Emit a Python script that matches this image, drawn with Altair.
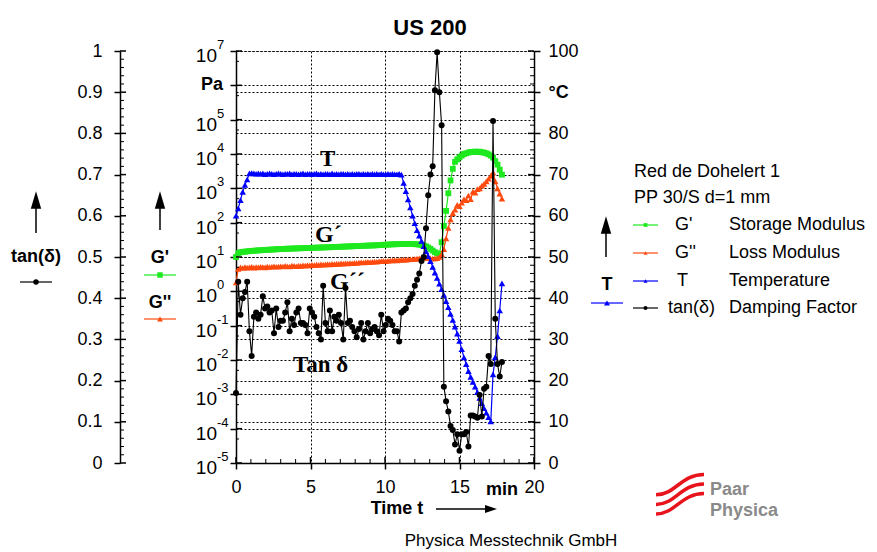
import altair as alt
import pandas as pd

# ---------------- data ----------------
TIME = [0.0, 0.15, 0.3, 0.45, 0.6, 0.75, 0.9, 1.05, 1.2, 1.35,
        1.5, 1.65, 1.8, 1.95, 2.1, 2.25, 2.4, 2.55, 2.7, 2.85,
        3.0, 3.15, 3.3, 3.45, 3.6, 3.75, 3.9, 4.05, 4.2, 4.35,
        4.5, 4.65, 4.8, 4.95, 5.1, 5.25, 5.4, 5.55, 5.7, 5.85,
        6.0, 6.15, 6.3, 6.45, 6.6, 6.75, 6.9, 7.05, 7.2, 7.35,
        7.5, 7.65, 7.8, 7.95, 8.1, 8.25, 8.4, 8.55, 8.7, 8.85,
        9.0, 9.15, 9.3, 9.45, 9.6, 9.75, 9.9, 10.05, 10.2, 10.35,
        10.5, 10.65, 10.8, 10.95, 11.1, 11.25, 11.4, 11.55, 11.7, 11.85,
        12.0, 12.15, 12.3, 12.45, 12.6, 12.75, 12.9, 13.05, 13.2, 13.35,
        13.5, 13.65, 13.8, 13.95, 14.1, 14.25, 14.4, 14.55, 14.7, 14.85,
        15.0, 15.15, 15.3, 15.45, 15.6, 15.75, 15.9, 16.05, 16.2, 16.35,
        16.5, 16.65, 16.8, 16.95, 17.1, 17.25, 17.4, 17.55, 17.7, 17.85]

G_STORAGE = [10.0, 13.0, 13.8, 14.1, 14.3, 14.6, 14.8, 15.0, 15.2, 15.4,
             15.6, 15.7, 15.9, 16.0, 16.2, 16.3, 16.5, 16.6, 16.8, 16.9,
             17.0, 17.1, 17.3, 17.4, 17.5, 17.6, 17.7, 17.8, 17.9, 18.0,
             18.1, 18.2, 18.3, 18.4, 18.5, 18.6, 18.7, 18.8, 18.9, 19.0,
             19.1, 19.2, 19.3, 19.4, 19.6, 19.7, 19.8, 19.9, 20.0, 20.2,
             20.3, 20.4, 20.5, 20.7, 20.8, 20.9, 21.0, 21.2, 21.3, 21.4,
             21.6, 21.7, 21.8, 22.0, 22.2, 22.4, 22.6, 22.8, 23.0, 23.2,
             23.4, 23.5, 23.6, 23.8, 23.9, 24.0, 24.0, 24.1, 24.0, 23.9,
             23.7, 23.4, 23.0, 22.4, 21.6, 20.5, 19.0, 17.2, 15.4, 13.8,
             12.8, 12.3, 27.0, 80.0, 220.0, 720.0, 1700.0, 3700.0, 5900.0, 7000.0,
             8000.0, 9000.0, 10000.0, 10500.0, 11000.0, 11500.0, 11500.0, 11800.0, 11500.0, 11700.0,
             11200.0, 11000.0, 10500.0, 9800.0, 9000.0, 7800.0, 6200.0, 4900.0, 3500.0, 2500.0]

G_LOSS = [1.8, 4.5, 5.0, 4.8, 5.1, 4.9, 5.0, 5.2, 4.9, 5.1,
          5.0, 5.2, 5.1, 5.0, 5.3, 5.1, 5.2, 5.4, 5.2, 5.3,
          5.4, 5.3, 5.5, 5.4, 5.3, 5.6, 5.5, 5.4, 5.6, 5.5,
          5.7, 5.6, 5.8, 5.7, 5.9, 5.8, 6.0, 5.9, 6.1, 6.0,
          6.1, 6.2, 6.1, 6.3, 6.2, 6.4, 6.3, 6.5, 6.4, 6.6,
          6.5, 6.7, 6.6, 6.8, 6.7, 6.9, 7.0, 6.9, 7.1, 7.2,
          7.1, 7.3, 7.4, 7.3, 7.5, 7.6, 7.7, 7.6, 7.8, 7.9,
          8.0, 8.1, 8.0, 8.2, 8.3, 8.4, 8.3, 8.5, 8.6, 8.7,
          8.8, 9.0, 9.1, 9.3, 9.5, 9.6, 9.4, 9.2, 9.0, 9.1,
          9.3, 10.0, 12.0, 17.0, 35.0, 70.0, 125.0, 190.0, 240.0, 330.0,
          300.0, 380.0, 480.0, 450.0, 620.0, 480.0, 800.0, 750.0, 950.0, 1000.0,
          1200.0, 1350.0, 1600.0, 1900.0, 2300.0, 2900.0, 1600.0, 1000.0, 700.0, 500.0]

TEMPERATURE = [60.0, 61.8, 63.8, 65.8, 67.5, 68.8, 70.3, 70.4, 70.3, 70.2,
               70.3, 70.2, 70.3, 70.1, 70.2, 70.3, 70.2, 70.1, 70.2, 70.3,
               70.2, 70.1, 70.2, 70.2, 70.3, 70.1, 70.2, 70.2, 70.1, 70.2,
               70.3, 70.1, 70.2, 70.2, 70.1, 70.2, 70.3, 70.1, 70.2, 70.1,
               70.2, 70.2, 70.1, 70.3, 70.1, 70.2, 70.1, 70.2, 70.2, 70.1,
               70.2, 70.1, 70.2, 70.1, 70.2, 70.2, 70.1, 70.2, 70.1, 70.2,
               70.1, 70.2, 70.1, 70.2, 70.1, 70.2, 70.1, 70.1, 70.2, 70.1,
               70.2, 70.1, 70.1, 70.2, 70.0, 68.0, 66.0, 64.0, 62.0, 60.0,
               58.2, 56.5, 55.2, 53.9, 52.6, 51.4, 50.2, 49.0, 47.6, 46.2,
               44.9, 43.5, 42.2, 40.8, 39.3, 37.8, 36.2, 34.7, 33.1, 31.4,
               29.6, 27.6, 25.6, 24.0, 22.3, 20.9, 19.7, 18.5, 17.2, 15.8,
               14.5, 13.3, 12.2, 11.1, 10.1, 21.5, 25.7, 30.8, 37.0, 43.6]

TAN_DELTA = [0.17, 0.44, 0.36, 0.40, 0.415, 0.44, 0.32, 0.26, 0.355, 0.365,
             0.35, 0.36, 0.405, 0.375, 0.38, 0.365, 0.37, 0.315, 0.375, 0.33,
             0.345, 0.345, 0.365, 0.39, 0.32, 0.35, 0.335, 0.365, 0.375, 0.34,
             0.34, 0.335, 0.315, 0.375, 0.365, 0.355, 0.33, 0.315, 0.30, 0.43,
             0.34, 0.32, 0.37, 0.32, 0.355, 0.345, 0.36, 0.34, 0.30, 0.425,
             0.34, 0.345, 0.33, 0.32, 0.305, 0.325, 0.34, 0.30, 0.32, 0.34,
             0.315, 0.325, 0.33, 0.32, 0.31, 0.36, 0.32, 0.335, 0.35, 0.345,
             0.335, 0.32, 0.32, 0.295, 0.365, 0.37, 0.375, 0.39, 0.40, 0.41,
             0.43, 0.445, 0.46, 0.49, 0.50, 0.57, 0.65, 0.70, 0.72, 0.905,
             0.997, 0.90, 0.82, 0.185, 0.15, 0.125, 0.09, 0.08, 0.045, 0.07,
             0.03, 0.07, 0.07, 0.075, 0.04, 0.115, 0.115, 0.113, 0.11, 0.165,
             0.113, 0.18, 0.185, 0.26, 0.24, 0.83, 0.35, 0.24, 0.21, 0.245]

# tick values
X_MAJOR = [0, 5, 10, 15, 20]
X_MINOR = [1, 2, 3, 4, 6, 7, 8, 9, 11, 12, 13, 14, 16, 17, 18, 19]
LOG_EXPONENTS = [-5, -4, -3, -2, -1, 0, 1, 2, 3, 4, 5, 6, 7]
T_MAJOR = [0, 10, 20, 30, 40, 50, 60, 70, 80, 90, 100]
T_MINOR = [2, 4, 6, 8, 12, 14, 16, 18, 22, 24, 26, 28, 32, 34, 36, 38,
           42, 44, 46, 48, 52, 54, 56, 58, 62, 64, 66, 68, 72, 74, 76, 78,
           82, 84, 86, 88, 92, 94, 96, 98]
TAN_MAJOR = [0, 0.1, 0.2, 0.3, 0.4, 0.5, 0.6, 0.7, 0.8, 0.9, 1]
TAN_MINOR = [0.02, 0.04, 0.06, 0.08, 0.12, 0.14, 0.16, 0.18, 0.22, 0.24, 0.26, 0.28,
             0.32, 0.34, 0.36, 0.38, 0.42, 0.44, 0.46, 0.48, 0.52, 0.54, 0.56, 0.58,
             0.62, 0.64, 0.66, 0.68, 0.72, 0.74, 0.76, 0.78, 0.82, 0.84, 0.86, 0.88,
             0.92, 0.94, 0.96, 0.98]

LOG_TICKS = [10.0 ** e for e in LOG_EXPONENTS]
LOG_MINOR = [5 * 10.0 ** e for e in LOG_EXPONENTS[:-1]]

# ---------------- styling ----------------
W, H = 298, 412
GREEN = "#1ee81e"
ORANGE = "#ff4a0e"
BLUE = "#0000ff"
SANS = "Liberation Sans"
SERIF = "Liberation Serif"
TAN_OFF = 116

series = pd.DataFrame({"t": TIME, "Gp": G_STORAGE, "Gpp": G_LOSS,
                       "T": TEMPERATURE, "tan": TAN_DELTA})
BASE = pd.DataFrame({"k": [0]})

XSCALE = alt.Scale(domain=[0, 20], nice=False, zero=False)
XAXIS = alt.Axis(orient="bottom", values=X_MAJOR, title=None, grid=True, gridColor="black",
                 gridDash=[2, 2], gridWidth=1, gridOpacity=1,
                 labelFontSize=18, labelColor="black", labelPadding=9,
                 labelFont=SANS, tickSize=6, tickWidth=1.5, tickColor="black",
                 domainColor="black", domainWidth=1.5, labelFlush=False)

YLOG = alt.Scale(type="log", domain=[1e-5, 1e7], nice=False)
YLOG_AXIS = alt.Axis(orient="left", values=LOG_TICKS, labels=False, title=None,
                     grid=True, gridColor="black", gridDash=[2, 2], gridWidth=1,
                     gridOpacity=1, tickSize=6, tickWidth=1.5, tickColor="black",
                     domainColor="black", domainWidth=1.5)

TSCALE = alt.Scale(domain=[0, 100], nice=False, zero=False)
TAXIS = alt.Axis(orient="right", values=T_MAJOR, title=None, grid=True,
                 gridColor="black", gridDash=[2, 2], gridWidth=1, gridOpacity=1,
                 labelExpr="datum.value == 90 ? '°C' : datum.label",
                 labelFontWeight={"condition": {"test": "datum.value == 90", "value": "bold"},
                                  "value": "normal"},
                 labelFontSize=18, labelColor="black", labelFont=SANS, labelPadding=8,
                 tickSize=6, tickWidth=1.5, tickColor="black",
                 domainColor="black", domainWidth=1.5)

TANSCALE = alt.Scale(domain=[0, 1], nice=False, zero=False)
TANAXIS = alt.Axis(orient="left", offset=TAN_OFF, values=TAN_MAJOR, format="~g",
                   title=None, grid=False, labelFontSize=18, labelColor="black",
                   labelFont=SANS, labelPadding=12, tickSize=6, tickWidth=1.5,
                   tickColor="black", domainColor="black", domainWidth=1.5)


def X(field="t"):
    return alt.X(f"{field}:Q", scale=XSCALE, axis=XAXIS)


# ---------------- moduli (log scale) ----------------
gy = lambda f: alt.Y(f"{f}:Q", scale=YLOG, axis=YLOG_AXIS)
logtick_df = pd.DataFrame({"v": LOG_TICKS, "e": [str(e) for e in LOG_EXPONENTS]})
loglab_df = logtick_df[logtick_df["e"] != "6"]

g_layer = alt.layer(
    alt.Chart(series).mark_line(color=GREEN, strokeWidth=1.2).encode(x=X(), y=gy("Gp")),
    alt.Chart(series).mark_point(shape="square", filled=True, color=GREEN, size=34, opacity=1)
    .encode(x=X(), y=gy("Gp")),
    alt.Chart(series).mark_line(color=ORANGE, strokeWidth=1.2).encode(x=X(), y=gy("Gpp")),
    alt.Chart(series).mark_point(shape="triangle-up", filled=True, color=ORANGE, size=42, opacity=1)
    .encode(x=X(), y=gy("Gpp")),
    alt.Chart(pd.DataFrame({"v": LOG_TICKS})).mark_rule(color="black", strokeWidth=1.5)
    .encode(y=gy("v"), x=alt.value(0), x2=alt.value(6)),
    alt.Chart(pd.DataFrame({"v": LOG_MINOR})).mark_rule(color="black", strokeWidth=1)
    .encode(y=gy("v"), x=alt.value(0), x2=alt.value(3)),
    alt.Chart(loglab_df).mark_text(text="10", align="right", baseline="middle", dy=5,
                                   fontSize=19, font=SANS, color="black")
    .encode(y=gy("v"), x=alt.value(-19)),
    alt.Chart(loglab_df).mark_text(align="left", baseline="middle", dy=-6,
                                   fontSize=13, font=SANS, color="black")
    .encode(y=gy("v"), x=alt.value(-19), text="e:N"),
    alt.Chart(pd.DataFrame({"v": [1e6]})).mark_text(text="Pa", align="right", baseline="middle",
                                                   fontSize=18, fontWeight="bold", font=SANS,
                                                   color="black")
    .encode(y=gy("v"), x=alt.value(-13)),
)

# ---------------- temperature ----------------
ty = lambda f: alt.Y(f"{f}:Q", scale=TSCALE, axis=TAXIS)
t_layer = alt.layer(
    alt.Chart(series).mark_line(color=BLUE, strokeWidth=1.2).encode(x=X(), y=ty("T")),
    alt.Chart(series).mark_point(shape="triangle-up", filled=True, color=BLUE, size=42, opacity=1)
    .encode(x=X(), y=ty("T")),
    alt.Chart(pd.DataFrame({"v": T_MAJOR})).mark_rule(color="black", strokeWidth=1.5)
    .encode(y=ty("v"), x=alt.value(W), x2=alt.value(W - 6)),
    alt.Chart(pd.DataFrame({"v": T_MINOR})).mark_rule(color="black", strokeWidth=1)
    .encode(y=ty("v"), x=alt.value(W), x2=alt.value(W - 4)),
)

# ---------------- tan delta ----------------
ny = lambda f: alt.Y(f"{f}:Q", scale=TANSCALE, axis=TANAXIS)
tan_layer = alt.layer(
    alt.Chart(series).mark_line(color="black", strokeWidth=1.1).encode(x=X(), y=ny("tan")),
    alt.Chart(series).mark_point(shape="circle", filled=True, color="black", size=36, opacity=1)
    .encode(x=X(), y=ny("tan")),
    alt.Chart(pd.DataFrame({"v": TAN_MAJOR})).mark_rule(color="black", strokeWidth=1.5)
    .encode(y=ny("v"), x=alt.value(-TAN_OFF), x2=alt.value(-TAN_OFF + 6)),
    alt.Chart(pd.DataFrame({"v": TAN_MINOR})).mark_rule(color="black", strokeWidth=1)
    .encode(y=ny("v"), x=alt.value(-TAN_OFF), x2=alt.value(-TAN_OFF + 4)),
)

# x axis inward ticks
xtick_layer = alt.layer(
    alt.Chart(pd.DataFrame({"v": X_MAJOR})).mark_rule(color="black", strokeWidth=1.5)
    .encode(x=X("v"), y=alt.value(H), y2=alt.value(H - 6)),
    alt.Chart(pd.DataFrame({"v": X_MINOR})).mark_rule(color="black", strokeWidth=1)
    .encode(x=X("v"), y=alt.value(H), y2=alt.value(H - 4)),
)


# ---------------- decorations ----------------
def text_at(txt, x, y, size=18, weight="normal", font=SANS, align="center", color="black"):
    return alt.Chart(BASE).mark_text(text=txt, fontSize=size, fontWeight=weight, font=font,
                                     align=align, baseline="middle", color=color) \
        .encode(x=alt.value(x), y=alt.value(y))


def rule_h(x1, x2, y, color="black", width=1.5):
    return alt.Chart(BASE).mark_rule(color=color, strokeWidth=width) \
        .encode(x=alt.value(x1), x2=alt.value(x2), y=alt.value(y))


def marker(x, y, shape, color, size):
    return alt.Chart(BASE).mark_point(shape=shape, filled=True, color=color, size=size, opacity=1) \
        .encode(x=alt.value(x), y=alt.value(y))


HEAD_UP = "M 0 -1 L 0.6 1 L -0.6 1 Z"
HEAD_RIGHT = "M 1 0 L -1 -0.65 L -1 0.65 Z"


def arrow_up(x, top, bottom):
    shaft = alt.Chart(BASE).mark_rule(color="black", strokeWidth=1.5) \
        .encode(x=alt.value(x), y=alt.value(top + 16), y2=alt.value(bottom))
    head = alt.Chart(BASE).mark_point(shape=HEAD_UP, filled=True, color="black", size=300,
                                      opacity=1).encode(x=alt.value(x), y=alt.value(top + 9))
    return [shaft, head]


def legend_sample(x1, x2, y, color, shape, size):
    return [rule_h(x1, x2, y, color, 1.2), marker((x1 + x2) / 2, y, shape, color, size)]


LOGO_WAVES = ("M -1 -0.05 C -0.2 -0.05 0.05 -0.9 1 -0.9 "
              "M -1 0.35 C -0.2 0.35 0.05 -0.5 1 -0.5 "
              "M -1 0.75 C -0.2 0.75 0.05 -0.1 1 -0.1")

LEG = 18

decos = [
    text_at("US 200", 194, -23, 22, "bold"),
    # in-plot annotations
    text_at("T", 84, 108, 23, "bold", SERIF, "left"),
    text_at("G´", 79, 184, 24, "bold", SERIF, "left"),
    text_at("G´´", 94, 231, 24, "bold", SERIF, "left"),
    text_at("Tan δ", 57, 314, 23, "bold", SERIF, "left"),
    # x axis title
    text_at("min", 266, 439, 18, "bold"),
    text_at("Time t", 161, 458, 18, "bold"),
    rule_h(200, 250, 458),
    alt.Chart(BASE).mark_point(shape=HEAD_RIGHT, filled=True, color="black", size=144, opacity=1)
    .encode(x=alt.value(255), y=alt.value(458)),
    text_at("Physica Messtechnik GmbH", 275, 490, 17),
    # logo
    alt.Chart(BASE).mark_point(shape=LOGO_WAVES, filled=False, color="#e8141c", strokeWidth=3.5,
                               size=2300, opacity=1).encode(x=alt.value(444), y=alt.value(445)),
    text_at("Paar", 474, 439, 18, "bold", SANS, "left", "#8a8a8a"),
    text_at("Physica", 474, 460, 18, "bold", SANS, "left", "#8a8a8a"),
    # left legends
    *arrow_up(-200, 140, 182),
    text_at("tan(δ)", -200, 206, 18, "bold"),
    *legend_sample(-216, -184, 231, "black", "circle", 30),
    *arrow_up(-76, 140, 179),
    text_at("G'", -76, 207, 18, "bold"),
    *legend_sample(-92, -60, 224, GREEN, "square", 30),
    text_at("G''", -76, 252, 18, "bold"),
    *legend_sample(-92, -60, 268, ORANGE, "triangle-up", 36),
    # right T legend
    *arrow_up(370, 165, 206),
    text_at("T", 371, 234, 18, "bold"),
    *legend_sample(355, 387, 252, BLUE, "triangle-up", 36),
    # right legend block
    text_at("Red de Dohelert 1", 398, 121, LEG, "normal", SANS, "left"),
    text_at("PP 30/S d=1 mm", 398, 147, LEG, "normal", SANS, "left"),
    *legend_sample(397, 422, 174, GREEN, "square", 14),
    text_at("G'", 439, 174, LEG, "normal", SANS, "left"),
    text_at("Storage Modulus", 493, 174, LEG, "normal", SANS, "left"),
    *legend_sample(397, 422, 202, ORANGE, "triangle-up", 16),
    text_at("G''", 439, 202, LEG, "normal", SANS, "left"),
    text_at("Loss Modulus", 493, 202, LEG, "normal", SANS, "left"),
    *legend_sample(397, 422, 230, BLUE, "triangle-up", 16),
    text_at("T", 441, 230, LEG, "normal", SANS, "left"),
    text_at("Temperature", 493, 230, LEG, "normal", SANS, "left"),
    *legend_sample(397, 422, 257, "black", "circle", 16),
    text_at("tan(δ)", 432, 257, LEG, "normal", SANS, "left"),
    text_at("Damping Factor", 493, 257, LEG, "normal", SANS, "left"),
]

chart = alt.layer(g_layer, t_layer, tan_layer, xtick_layer, *decos).resolve_scale(
    y="independent"
).properties(
    width=W, height=H,
    autosize=alt.AutoSizeParams(type="none"),
    padding={"left": 228, "top": 43, "right": 335, "bottom": 88},
).configure_view(stroke="black", strokeWidth=1.5).configure(font=SANS)

chart.save("out.html", embed_options={"renderer": "svg", "actions": False})
